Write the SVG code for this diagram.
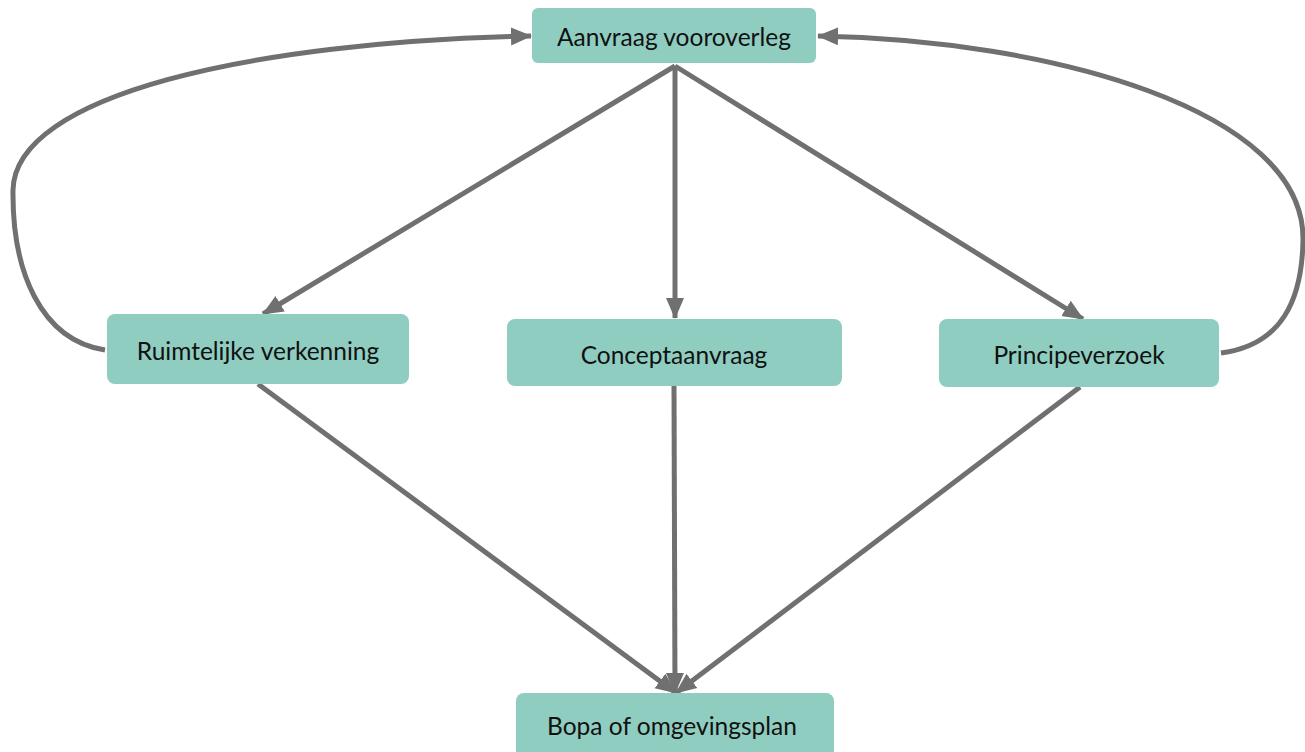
<svg xmlns="http://www.w3.org/2000/svg" width="1305" height="752" viewBox="0 0 1305 752">
<style>
.box{fill:#8FCDC0;}
.lbl{font-family:Lato,"Open Sans","Liberation Sans",sans-serif;font-size:24.5px;fill:#111;text-anchor:middle;dominant-baseline:central;}
.edge{stroke:#707070;stroke-width:5;fill:none;marker-end:url(#ah);}
</style>
<defs>
<marker id="ah" markerUnits="userSpaceOnUse" markerWidth="22" markerHeight="22" viewBox="0 0 22 22" refX="20" refY="11" orient="auto">
<path d="M0,2 L21,11 L0,20 Z" fill="#707070"/>
</marker>
</defs>
<rect width="1305" height="752" fill="#fff"/>
<g id="connectors">
<path class="edge" d="M675,66 L263,314"/>
<path class="edge" d="M675,66 L675,318"/>
<path class="edge" d="M675,66 L1083,319"/>
<path class="edge" d="M258,384 L676,693"/>
<path class="edge" d="M674,386 L675,693"/>
<path class="edge" d="M1080,387 L676,693"/>
<path class="edge" d="M105,350 C40,340 12,270 13,190 C15,95 250,42 531,36"/>
<path class="edge" d="M1221,353 C1282,345 1302,300 1303,240 C1305,110 1050,40 818,36"/>
</g>
<g id="n-aanvraag"><rect class="box" x="532" y="8" width="284" height="55" rx="6"/><text class="lbl" x="674" y="36">Aanvraag vooroverleg</text></g>
<g id="n-ruimtelijke"><rect class="box" x="107" y="314" width="302" height="70" rx="8"/><text class="lbl" x="258" y="350">Ruimtelijke verkenning</text></g>
<g id="n-concept"><rect class="box" x="507" y="319" width="335" height="67" rx="8"/><text class="lbl" x="674" y="354">Conceptaanvraag</text></g>
<g id="n-principe"><rect class="box" x="939" y="319" width="280" height="68" rx="8"/><text class="lbl" x="1079" y="354">Principeverzoek</text></g>
<g id="n-bopa"><rect class="box" x="516" y="693" width="318" height="70" rx="8"/><text class="lbl" x="672" y="725">Bopa of omgevingsplan</text></g>
</svg>
